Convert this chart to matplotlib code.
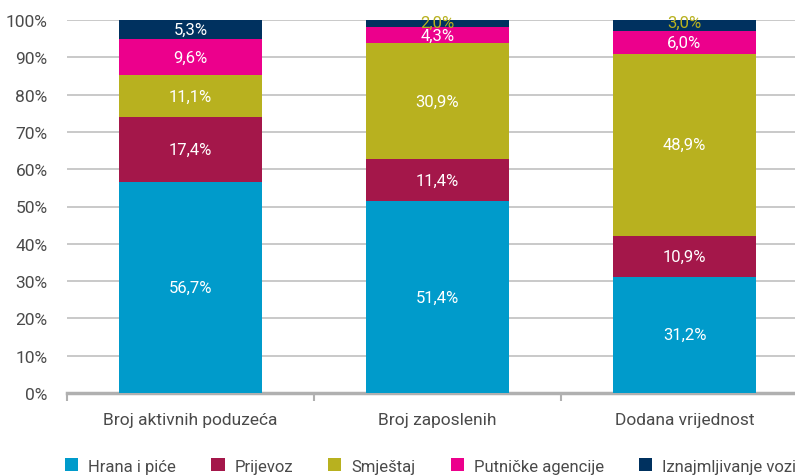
import numpy as np
import matplotlib
matplotlib.use('Agg')
import matplotlib.pyplot as plt
from matplotlib.patches import Patch

plt.rcParams['font.family'] = ['Roboto', 'DejaVu Sans']

categories = ['Broj aktivnih poduzeća', 'Broj zaposlenih', 'Dodana vrijednost']
series = ['Hrana i piće', 'Prijevoz', 'Smještaj', 'Putničke agencije', 'Iznajmljivanje vozila']
hrana = [56.7, 51.4, 31.2]
prijevoz = [17.4, 11.4, 10.9]
smjestaj = [11.1, 30.9, 48.9]
agencije = [9.6, 4.3, 6.0]
vozila = [5.3, 2.0, 3.0]
colors = ['#009bcb', '#a4174a', '#b8b11f', '#ec008c', '#00315f']

values = [hrana, prijevoz, smjestaj, agencije, vozila]
txtcol = '#4a4a4a'

fig = plt.figure(figsize=(7.95, 4.77), dpi=100)
# axes run past the right edge like in the original
ax = fig.add_axes([67/795, 1-394/477, 741/795, 373/477])

x = np.arange(len(categories))
bottom = np.zeros(len(categories))
for vals, col in zip(values, colors):
    v = np.array(vals) / 100
    ax.bar(x, v, 0.58, bottom=bottom, color=col, zorder=3)
    for xi, b, h, val in zip(x, bottom, v, vals):
        small = h < 0.035
        ypos = 0.995 if small else b + h/2
        ax.text(xi, ypos, f'{val:.1f}%'.replace('.', ','),
                ha='center', va='center', fontsize=12,
                color='#b8b11f' if small else 'white', zorder=4)
    bottom += v

ax.set_xlim(-0.5, 2.5)
ax.set_ylim(0, 1)
ax.set_yticks(np.arange(0, 1.01, 0.1))
ax.set_yticklabels([f'{int(t)}%' for t in np.arange(0, 101, 10)])
ax.yaxis.grid(True, color='#c0c0c0', lw=1.2, zorder=0)
ax.set_xticks(x)
ax.set_xticklabels(categories)
ax.set_xticks([-0.5, 0.5, 1.5, 2.5], minor=True)
ax.tick_params(axis='x', which='major', length=0, pad=14, labelsize=12.5, labelcolor=txtcol)
ax.tick_params(axis='x', which='minor', length=6, width=1.5, color='#b0b0b0')
ax.tick_params(axis='y', length=0, pad=14, labelsize=12.5, labelcolor=txtcol)
for s in ['top', 'right', 'left']:
    ax.spines[s].set_visible(False)
ax.spines['bottom'].set_color('#b0b0b0')
ax.spines['bottom'].set_linewidth(2.5)

handles = [Patch(facecolor=c, label=s) for c, s in zip(colors, series)]
fig.legend(handles=handles, loc='center left', bbox_to_anchor=(50/795, 1-467/477),
           ncol=5, frameon=False, fontsize=12, handlelength=0.8, handleheight=0.8,
           columnspacing=2.1, handletextpad=0.6, labelcolor=txtcol)

fig.savefig('out.png', dpi=100)
